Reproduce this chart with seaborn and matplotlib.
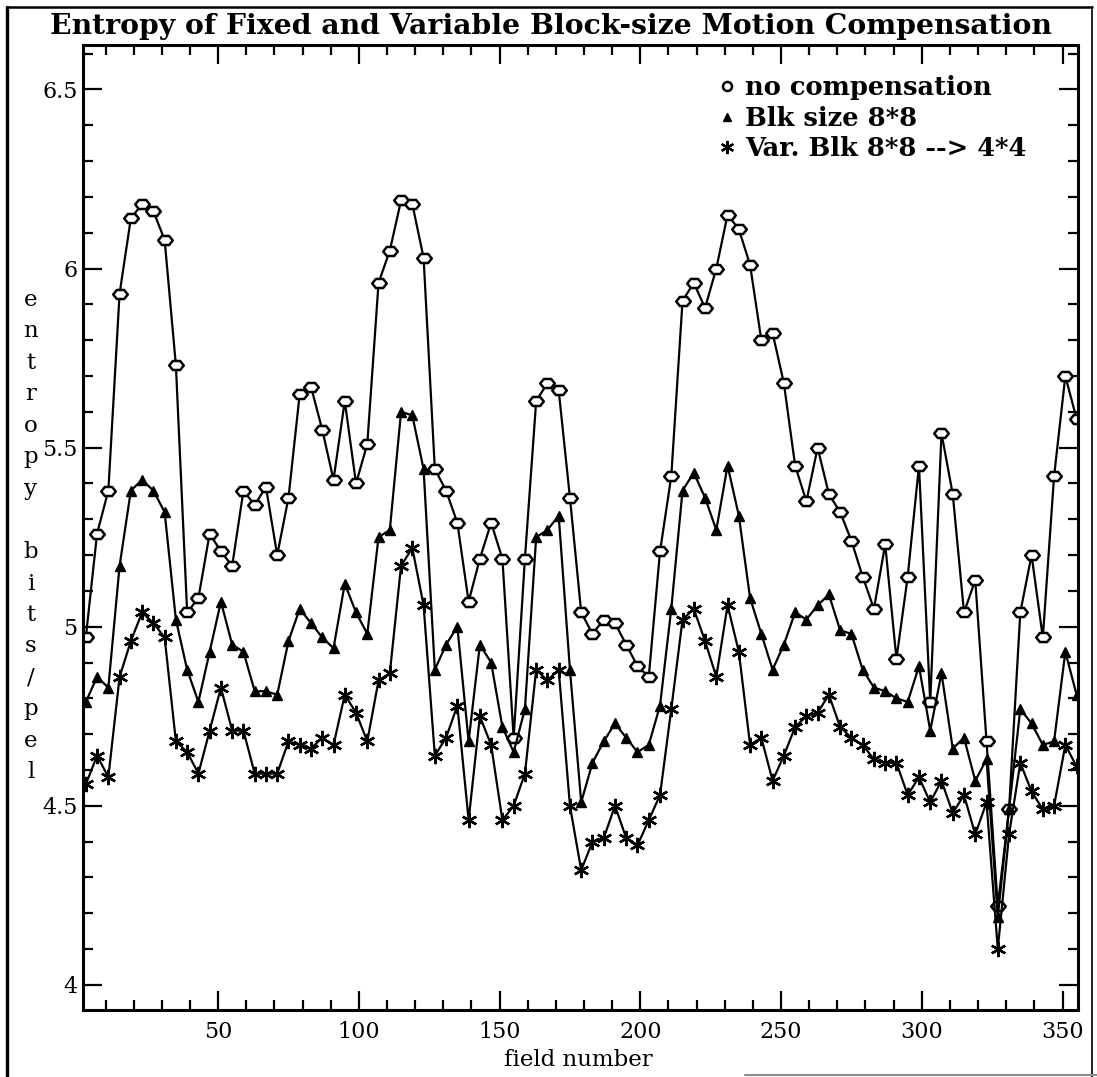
import numpy as np
import pandas as pd
import matplotlib
matplotlib.use("Agg")
import matplotlib.pyplot as plt
from matplotlib.path import Path
from matplotlib.lines import Line2D
from matplotlib.ticker import MultipleLocator, FuncFormatter
import seaborn as sns

# Field numbers (every 4th field)
fields = np.arange(3, 356, 4)

# Entropy (bits/pel) per field
no_comp = [
    4.97, 5.26, 5.38, 5.93, 6.14, 6.18, 6.16, 6.08, 5.73, 5.04,
    5.08, 5.26, 5.21, 5.17, 5.38, 5.34, 5.39, 5.20, 5.36, 5.65,
    5.67, 5.55, 5.41, 5.63, 5.40, 5.51, 5.96, 6.05, 6.19, 6.18,
    6.03, 5.44, 5.38, 5.29, 5.07, 5.19, 5.29, 5.19, 4.69, 5.19,
    5.63, 5.68, 5.66, 5.36, 5.04, 4.98, 5.02, 5.01, 4.95, 4.89,
    4.86, 5.21, 5.42, 5.91, 5.96, 5.89, 6.00, 6.15, 6.11, 6.01,
    5.80, 5.82, 5.68, 5.45, 5.35, 5.50, 5.37, 5.32, 5.24, 5.14,
    5.05, 5.23, 4.91, 5.14, 5.45, 4.79, 5.54, 5.37, 5.04, 5.13,
    4.68, 4.22, 4.49, 5.04, 5.20, 4.97, 5.42, 5.70, 5.58,
]
blk_8x8 = [
    4.79, 4.86, 4.83, 5.17, 5.38, 5.41, 5.38, 5.32, 5.02, 4.88,
    4.79, 4.93, 5.07, 4.95, 4.93, 4.82, 4.82, 4.81, 4.96, 5.05,
    5.01, 4.97, 4.94, 5.12, 5.04, 4.98, 5.25, 5.27, 5.60, 5.59,
    5.44, 4.88, 4.95, 5.00, 4.68, 4.95, 4.90, 4.72, 4.65, 4.77,
    5.25, 5.27, 5.31, 4.88, 4.51, 4.62, 4.68, 4.73, 4.69, 4.65,
    4.67, 4.78, 5.05, 5.38, 5.43, 5.36, 5.27, 5.45, 5.31, 5.08,
    4.98, 4.88, 4.95, 5.04, 5.02, 5.06, 5.09, 4.99, 4.98, 4.88,
    4.83, 4.82, 4.80, 4.79, 4.89, 4.71, 4.87, 4.66, 4.69, 4.57,
    4.63, 4.19, 4.49, 4.77, 4.73, 4.67, 4.68, 4.93, 4.81,
]
var_blk = [
    4.56, 4.64, 4.58, 4.86, 4.96, 5.04, 5.01, 4.97, 4.68, 4.65,
    4.59, 4.71, 4.83, 4.71, 4.71, 4.59, 4.59, 4.59, 4.68, 4.67,
    4.66, 4.69, 4.67, 4.81, 4.76, 4.68, 4.85, 4.87, 5.17, 5.22,
    5.06, 4.64, 4.69, 4.78, 4.46, 4.75, 4.67, 4.46, 4.50, 4.59,
    4.88, 4.85, 4.88, 4.50, 4.32, 4.40, 4.41, 4.50, 4.41, 4.39,
    4.46, 4.53, 4.77, 5.02, 5.05, 4.96, 4.86, 5.06, 4.93, 4.67,
    4.69, 4.57, 4.64, 4.72, 4.75, 4.76, 4.81, 4.72, 4.69, 4.67,
    4.63, 4.62, 4.62, 4.53, 4.58, 4.51, 4.57, 4.48, 4.53, 4.42,
    4.51, 4.10, 4.42, 4.62, 4.54, 4.49, 4.50, 4.67, 4.61,
]

series_labels = ["no compensation", "Blk size 8*8", "Var. Blk 8*8 --> 4*4"]
title = "Entropy of Fixed and Variable Block-size Motion Compensation"
x_label = "field number"
y_label_top = "entropy"
y_label_bottom = "bits/pel"

df = pd.DataFrame({
    "field": np.tile(fields, 3),
    "entropy": no_comp + blk_8x8 + var_blk,
    "method": np.repeat(series_labels, len(fields)),
})

sns.set_style("ticks")
plt.rcParams["font.family"] = ["DejaVu Serif"]
plt.rcParams["axes.linewidth"] = 2.2
for key in ["text.color", "axes.labelcolor", "xtick.color", "ytick.color",
            "axes.edgecolor"]:
    plt.rcParams[key] = "black"

W, H = 1097, 1077
fig = plt.figure(figsize=(W / 100, H / 100), dpi=100)
fig.patch.set_facecolor("white")
ax = fig.add_axes([83 / W, 1 - 1010 / H, (1078 - 83) / W, (1010 - 45) / H])
ax.set_facecolor("white")

# flattened hexagon used for the "no compensation" points
hexagon = Path([(-1, 0), (-0.5, 0.62), (0.5, 0.62), (1, 0),
                (0.5, -0.62), (-0.5, -0.62), (-1, 0)], closed=True)
asterisk = (6, 2, 0)

styles = {
    "no compensation": dict(marker=hexagon, markersize=10.5, markerfacecolor="white",
                            markeredgewidth=1.8),
    "Blk size 8*8": dict(marker="^", markersize=7.5, markerfacecolor="black",
                         markeredgewidth=1.0),
    "Var. Blk 8*8 --> 4*4": dict(marker=asterisk, markersize=11, markerfacecolor="black",
                                 markeredgewidth=1.7),
}

for name in series_labels:
    sub = df[df["method"] == name]
    sns.lineplot(data=sub, x="field", y="entropy", ax=ax, color="black",
                 linewidth=1.6, markeredgecolor="black", estimator=None,
                 legend=False, **styles[name])

ax.set_xlim(2, 355.5)
ax.set_ylim(3.93, 6.624)
ax.xaxis.set_major_locator(MultipleLocator(50))
ax.xaxis.set_minor_locator(MultipleLocator(10))
ax.yaxis.set_major_locator(MultipleLocator(0.5))
ax.yaxis.set_minor_locator(MultipleLocator(0.1))
ax.yaxis.set_major_formatter(FuncFormatter(lambda v, p: f"{v:g}"))
ax.tick_params(which="both", direction="in", top=True, right=True,
               width=1.6, colors="black")
ax.tick_params(which="major", length=14, labelsize=16)
ax.tick_params(which="minor", length=7)
ax.tick_params(axis="x", which="major", pad=8)
ax.tick_params(axis="y", which="major", pad=4)
for s in ax.spines.values():
    s.set_visible(True)
    s.set_color("black")
ax.set_xlabel("")
ax.set_ylabel("")

# legend, top right inside the axes
handles = [
    Line2D([], [], linestyle="none", marker="o", markersize=6.5, markerfacecolor="white",
           markeredgecolor="black", markeredgewidth=1.8),
    Line2D([], [], linestyle="none", marker="^", markersize=5.5, markerfacecolor="black",
           markeredgecolor="black"),
    Line2D([], [], linestyle="none", marker=asterisk, markersize=9.5,
           markeredgecolor="black", markeredgewidth=1.6),
]
leg = ax.legend(handles, series_labels, loc="upper left",
                bbox_to_anchor=(0.638, 0.969), frameon=False, handlelength=0.7,
                handletextpad=0.36, labelspacing=0.22, borderpad=0, borderaxespad=0,
                prop=dict(family="DejaVu Serif", weight="bold", size=18.5))

fig.text(551 / W, 1 - 27 / H, title, ha="center", va="center",
         fontsize=20.3, fontweight="bold")
fig.text(578 / W, 1 - 1060 / H, x_label, ha="center", va="center", fontsize=16.5)

# vertical, letter-stacked y label
chars = list(y_label_top) + [None] + list(y_label_bottom)
for i, ch in enumerate(chars):
    if ch is None:
        continue
    ypx = 306 + i * 31.5
    fig.text(31 / W, 1 - ypx / H, ch, ha="center", va="baseline", fontsize=16.5)

# page frame
for xs, ys, lw, col in [((7, 7), (7, 1077), 2.4, "black"),
                        ((7, 1092), (7, 7), 1.8, "black"),
                        ((1092, 1092), (7, 1077), 1.2, "black"),
                        ((745, 1097), (1075, 1075), 1.5, "0.55")]:
    fig.add_artist(Line2D([x / W for x in xs], [1 - y / H for y in ys],
                          transform=fig.transFigure, color=col, lw=lw))

fig.savefig("out.png", dpi=100, facecolor="white")
